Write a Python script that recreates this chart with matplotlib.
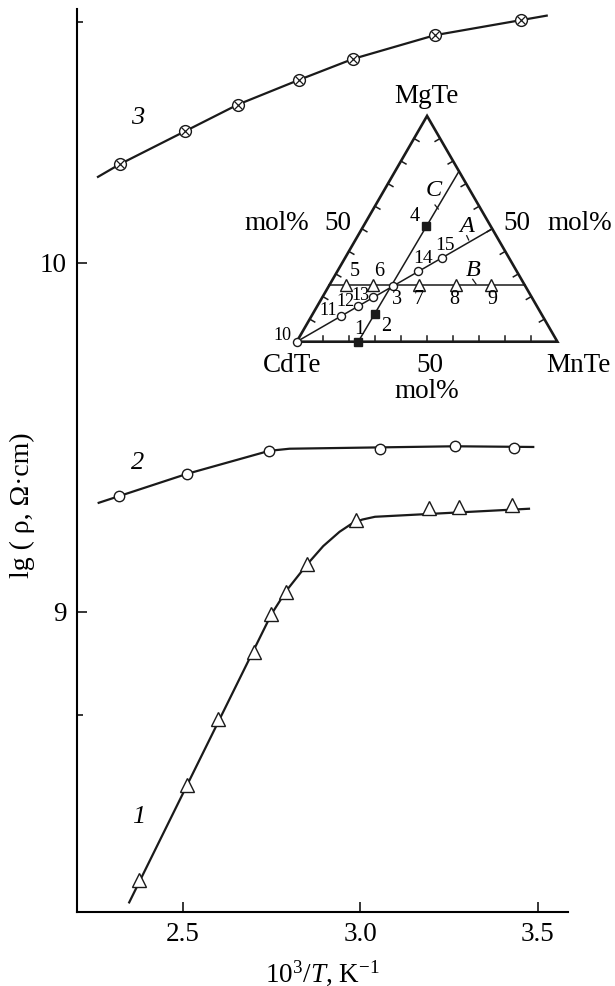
import numpy as np
import matplotlib
matplotlib.use('Agg')
import matplotlib.pyplot as plt

plt.rcParams['font.family'] = 'Liberation Serif'
plt.rcParams['mathtext.fontset'] = 'custom'
plt.rcParams['mathtext.rm'] = 'Liberation Serif'
plt.rcParams['mathtext.it'] = 'Liberation Serif:italic'

#######################################################################
# data: lg(rho) vs 10^3/T
#######################################################################

# curve 1 (triangles)
x1 = [2.377, 2.510, 2.597, 2.700, 2.749, 2.791, 2.850, 2.986, 3.192, 3.277, 3.426]
y1 = [8.231, 8.503, 8.692, 8.885, 8.993, 9.056, 9.136, 9.263, 9.296, 9.301, 9.305]
x1_line = [2.348, 2.749, 2.791, 2.850, 2.895, 2.941, 2.975, 3.005, 3.041, 3.475]
y1_line = [8.167, 8.993, 9.060, 9.136, 9.188, 9.229, 9.252, 9.264, 9.272, 9.295]

# curve 2 (circles)
x2 = [2.319, 2.511, 2.743, 3.056, 3.266, 3.432]
y2 = [9.332, 9.395, 9.460, 9.465, 9.474, 9.469]
x2_line = [2.262, 2.511, 2.743, 2.800, 3.266, 3.487]
y2_line = [9.312, 9.395, 9.461, 9.467, 9.474, 9.472]

# curve 3 (crossed circles)
x3 = [2.321, 2.506, 2.654, 2.827, 2.979, 3.210, 3.452]
y3 = [10.282, 10.377, 10.453, 10.524, 10.584, 10.652, 10.695]
x3_line = [2.260] + x3 + [3.525]
y3_line = [10.246] + y3 + [10.708]

#######################################################################
# inset: composition triangle CdTe-MnTe-MgTe, fractions (MnTe, MgTe)
#######################################################################
sq_mn = [0.236, 0.24, 0.24]        # points 1, 2, 4 (filled squares)
sq_mg = [0.0, 0.121, 0.512]
tri_mn = [0.065, 0.167, 0.343, 0.485, 0.621]   # points 5..9 on B
tri_mg = [0.25, 0.25, 0.25, 0.25, 0.25]
circ_mn = [0.0, 0.114, 0.156, 0.196, 0.245, 0.311, 0.372]  # 10..13, 3, 14, 15 on A
circ_mg = [0.0, 0.114, 0.156, 0.196, 0.245, 0.311, 0.372]
lineA = ([0.0, 0.5], [0.0, 0.5])
lineB = ([0.0, 0.75], [0.25, 0.25])
lineC = ([0.236, 0.245], [0.0, 0.755])

W, H = 615, 986
fig = plt.figure(figsize=(W / 100, H / 100), dpi=100)

def fx(px):
    return px / W

def fy(py):
    return 1 - py / H

ax = fig.add_axes([fx(76.7), fy(912), fx(568) - fx(76.7), fy(9) - fy(912)])
ax.set_xlim(2.20, 3.585)
ax.set_ylim(8.1395, 10.727)
for s in ['top', 'right']:
    ax.spines[s].set_visible(False)
for s in ['left', 'bottom']:
    ax.spines[s].set_linewidth(1.5)
ax.set_xticks([2.5, 3.0, 3.5])
ax.set_xticklabels(['2.5', '3.0', '3.5'])
ax.set_yticks([9, 10])
ax.set_yticks([8.705, 10.69], minor=True)
ax.tick_params(which='major', direction='in', length=7, width=1.1, labelsize=19.5, pad=7)
ax.tick_params(which='minor', direction='in', length=4, width=1.1)

lc = '#1a1a1a'
ax.plot(x1_line, y1_line, color=lc, lw=1.6, zorder=2)
ax.plot(x1, y1, ls='none', marker='^', ms=9.5, mfc='white', mec=lc, mew=1.0, zorder=3)
ax.plot(x2_line, y2_line, color=lc, lw=1.6, zorder=2)
ax.plot(x2, y2, ls='none', marker='o', ms=7.5, mfc='white', mec=lc, mew=1.0, zorder=3)
ax.plot(x3_line, y3_line, color=lc, lw=1.6, zorder=2)
ax.plot(x3, y3, ls='none', marker='o', ms=8.5, mfc='white', mec=lc, mew=1.0, zorder=3)
ax.plot(x3, y3, ls='none', marker='x', ms=5.5, mec=lc, mew=0.9, zorder=4)

ax.text(2.373, 10.415, '3', fontsize=19, style='italic', ha='center', va='center')
ax.text(2.372, 9.425, '2', fontsize=19, style='italic', ha='center', va='center')
ax.text(2.375, 8.413, '1', fontsize=19, style='italic', ha='center', va='center')

fig.text(fx(322), fy(973), r'$10^3/T$, K$^{-1}$', fontsize=19.5, ha='center', va='center')
fig.text(fx(22), fy(505), 'lg ( ρ, Ω·cm)', fontsize=20, rotation=90, ha='center', va='center')

# inset triangle
s3 = np.sqrt(3) / 2
def tern(mn, mg):
    mn = np.asarray(mn, float)
    mg = np.asarray(mg, float)
    return mn + mg / 2, mg * s3

ins = fig.add_axes([fx(200), fy(410), fx(615) - fx(200), fy(90) - fy(410)])
ins.set_xlim(-0.3709, 1.2209)
ins.set_ylim(-0.262, 0.9655)
ins.axis('off')
ins.patch.set_alpha(0)

tx, ty = tern([0, 1, 0, 0], [0, 0, 1, 0])
ins.plot(tx, ty, color=lc, lw=1.9, solid_joinstyle='miter', clip_on=False)

tl = 0.022
for k in range(1, 10):
    f = k / 10
    for (mn, mg), (nx, ny) in [((f, 0), (0, 1)),
                               ((0, f), (s3, -0.5)),
                               ((1 - f, f), (-s3, -0.5))]:
        px, py = tern(mn, mg)
        ins.plot([px, px + tl * nx], [py, py + tl * ny], color=lc, lw=1.1, clip_on=False)

for ln in [lineA, lineB, lineC]:
    lx, ly = tern(*ln)
    ins.plot(lx, ly, color=lc, lw=1.1, clip_on=False, zorder=2)

mx, my = tern(sq_mn, sq_mg)
ins.plot(mx, my, ls='none', marker='s', ms=5.8, mfc=lc, mec=lc, clip_on=False, zorder=3)
mx, my = tern(tri_mn, tri_mg)
ins.plot(mx, my, ls='none', marker='^', ms=8.5, mfc='white', mec=lc, mew=1.0, clip_on=False, zorder=3)
mx, my = tern(circ_mn, circ_mg)
ins.plot(mx, my, ls='none', marker='o', ms=5.8, mfc='white', mec=lc, mew=1.0, clip_on=False, zorder=3)

# small leader strokes next to the line letters
for (ax0, ay0), (ax1, ay1) in [((435, 205), (438.3, 209)),
                               ((466.7, 235.7), (468.7, 240)),
                               ((472.7, 279.3), (476, 284))]:
    ins.plot([(ax0 - 296.7) / 260.7, (ax1 - 296.7) / 260.7],
             [(341.7 - ay0) / 260.7, (341.7 - ay1) / 260.7], color=lc, lw=0.9, clip_on=False)

big = 19.5
for s, px, py in [('MgTe', 426.7, 96.7), ('CdTe', 291.7, 365), ('MnTe', 578.3, 365),
                  ('50', 430, 365), ('mol%', 426.7, 391.7),
                  ('mol%', 276.7, 223.3), ('50', 338.3, 223.3),
                  ('50', 516.7, 223.3), ('mol%', 580, 223.3)]:
    fig.text(fx(px), fy(py), s, fontsize=big, ha='center', va='center')

for s, px, py, fs in [('1', 359.3, 329.3, 14.5), ('2', 385.7, 326.7, 14.5), ('3', 396.7, 300, 14.5),
                      ('4', 415, 216.7, 14.5), ('5', 355, 271.7, 14.5), ('6', 379, 271.7, 14.5),
                      ('7', 418.3, 300, 14.5), ('8', 454, 300, 14.5), ('9', 492.7, 300, 14.5),
                      ('10', 282.7, 336, 13), ('11', 328.3, 310.7, 13), ('12', 345, 301.7, 13),
                      ('13', 360.7, 295, 13), ('14', 423.3, 258.3, 14), ('15', 445, 246, 14)]:
    fig.text(fx(px), fy(py), s, fontsize=fs, ha='center', va='center')

for s, px, py in [('A', 466.7, 226.7), ('B', 473.3, 270), ('C', 433.3, 190)]:
    fig.text(fx(px), fy(py), s, fontsize=17.5, style='italic', ha='center', va='center')

fig.savefig('out.png', dpi=100)
